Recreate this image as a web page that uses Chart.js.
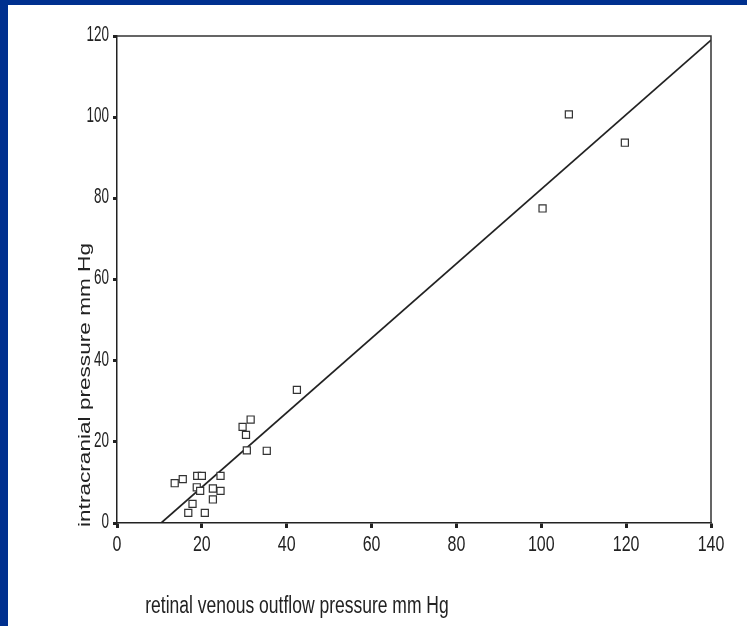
<!DOCTYPE html>
<html>
<head>
<meta charset="utf-8">
<script src="https://cdn.jsdelivr.net/npm/chart.js@4.4.1/dist/chart.umd.min.js"></script>
<style>
  html, body { margin: 0; padding: 0; background: #fff; }
  body { width: 747px; height: 626px; overflow: hidden; position: relative; }
  .frame-top { position: absolute; left: 0; top: 0; width: 747px; height: 5px; background: #00308f; }
  .frame-left { position: absolute; left: 0; top: 0; width: 8px; height: 626px; background: #00308f; }
  .chart-box { position: absolute; left: 8px; top: 5px; width: 739px; height: 621px; }
</style>
</head>
<body>
<div class="frame-top"></div>
<div class="frame-left"></div>
<div class="chart-box"><canvas id="scatter"></canvas></div>
<script>
// retinal venous outflow pressure (x) vs intracranial pressure (y), mm Hg
const venousPressure = [106.5, 119.7, 100.3, 42.4, 31.5, 29.6, 30.4, 30.6, 35.3, 24.4, 18.9, 20.0, 15.5, 13.6, 18.8, 19.6, 22.6, 24.4, 22.6, 17.8, 16.8, 20.7];
const icpValues      = [100.7, 93.7, 77.5, 32.8, 25.5, 23.7, 21.7, 17.9, 17.8, 11.6, 11.6, 11.6, 10.8, 9.8, 8.8, 7.9, 8.5, 7.9, 5.8, 4.7, 2.5, 2.5];

// regression line ends as drawn
const fitX = [10.4, 140];
const fitY = [0, 119];

const xTicks = [0, 20, 40, 60, 80, 100, 120, 140];
const yTicks = [0, 20, 40, 60, 80, 100, 120];

const xTitle = 'retinal venous outflow pressure mm Hg';
const yTitle = 'intracranial pressure mm Hg';

const FONT = '"Liberation Sans", Arial, sans-serif';
const STRETCH = 1.33; // the scanned figure is stretched vertically, text looks narrow

// text drawn stretched along the page's vertical direction
function stretchedText(ctx, text, x, y, size, align, stretch) {
  ctx.save();
  ctx.translate(x, y);
  ctx.scale(1, stretch || STRETCH);
  ctx.font = size + 'px ' + FONT;
  ctx.textAlign = align;
  ctx.textBaseline = 'middle';
  ctx.fillText(text, 0, 0);
  ctx.restore();
}

// frame on top/right, tick labels and the axis titles
const decorations = {
  id: 'decorations',
  afterDraw(chart) {
    const { ctx, chartArea: a } = chart;
    const xs = chart.scales.x, ys = chart.scales.y;
    ctx.save();
    ctx.strokeStyle = '#333';
    ctx.lineWidth = 1.5;
    ctx.beginPath();
    ctx.moveTo(a.left, a.top);
    ctx.lineTo(a.right, a.top);
    ctx.lineTo(a.right, a.bottom);
    ctx.stroke();

    ctx.fillStyle = '#222';
    xTicks.forEach(v => stretchedText(ctx, String(v), xs.getPixelForValue(v), a.bottom + 22, 16, 'center'));
    yTicks.forEach(v => stretchedText(ctx, String(v), a.left - 8, ys.getPixelForValue(v) - 1, 13.5, 'right', 1.6));

    stretchedText(ctx, xTitle, 289, 602, 17.5, 'center');
    // rotated: the stretch now runs along the text
    ctx.save();
    ctx.translate(77, 380);
    ctx.rotate(-Math.PI / 2);
    ctx.scale(STRETCH, 1);
    ctx.font = '17px ' + FONT;
    ctx.textAlign = 'center';
    ctx.textBaseline = 'middle';
    ctx.fillText(yTitle, 0, 0);
    ctx.restore();
    ctx.restore();
  }
};

new Chart(document.getElementById('scatter'), {
  type: 'scatter',
  data: {
    datasets: [
      {
        label: 'patients',
        data: venousPressure.map((v, i) => ({ x: v, y: icpValues[i] })),
        pointStyle: 'rect',
        pointRadius: 5,
        pointHoverRadius: 5,
        backgroundColor: '#fff',
        borderColor: '#333',
        borderWidth: 1.2
      },
      {
        label: 'fit',
        type: 'line',
        data: fitX.map((v, i) => ({ x: v, y: fitY[i] })),
        borderColor: '#222',
        borderWidth: 1.7,
        pointRadius: 0,
        fill: false
      }
    ]
  },
  options: {
    responsive: true,
    maintainAspectRatio: false,
    animation: false,
    layout: { padding: { top: 31, right: 36, left: 0, bottom: 0 } },
    plugins: {
      legend: { display: false },
      tooltip: { enabled: false }
    },
    scales: {
      x: {
        type: 'linear',
        min: 0,
        max: 140,
        afterBuildTicks: (s) => { s.ticks = xTicks.map(v => ({ value: v })); },
        afterFit: (s) => { s.height = 103; },
        border: { color: '#222', width: 1.5 },
        grid: { drawOnChartArea: false, tickLength: 5, tickWidth: 3, tickColor: '#222' },
        ticks: { display: false }
      },
      y: {
        type: 'linear',
        min: 0,
        max: 120,
        afterBuildTicks: (s) => { s.ticks = yTicks.map(v => ({ value: v })); },
        afterFit: (s) => { s.width = 109; },
        border: { color: '#222', width: 1.5 },
        grid: { drawOnChartArea: false, tickLength: 4, tickWidth: 3, tickColor: '#222' },
        ticks: { display: false }
      }
    }
  },
  plugins: [decorations]
});
</script>
</body>
</html>
